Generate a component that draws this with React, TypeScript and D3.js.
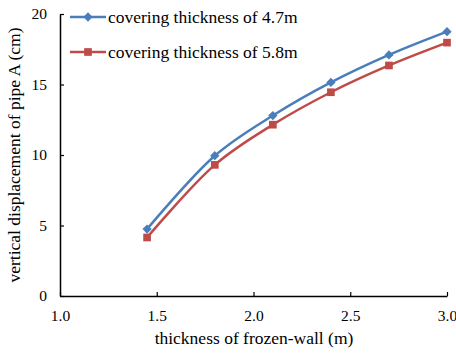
import React, { useEffect, useRef } from 'react';
import * as d3 from 'd3';

const thickness = [1.45, 1.8, 2.1, 2.4, 2.7, 3.0];
const cover47 = [4.75, 9.95, 12.8, 15.15, 17.1, 18.75];
const cover58 = [4.15, 9.3, 12.15, 14.45, 16.35, 17.97];
const xTicks = [1.0, 1.5, 2.0, 2.5, 3.0];
const yTicks = [0, 5, 10, 15, 20];
const seriesNames = ['covering thickness of 4.7m', 'covering thickness of 5.8m'];

const App = () => {
  const ref = useRef<SVGSVGElement>(null);

  useEffect(() => {
    const svg = d3.select(ref.current);
    svg.selectAll('*').remove();
    const left = 60;
    const right = 447;
    const top = 14;
    const bottom = 296;
    const font = '"Liberation Serif", "Times New Roman", serif';

    const x = d3.scaleLinear().domain([1.0, 3.0]).range([left, right]);
    const y = d3.scaleLinear().domain([0, 20]).range([bottom, top]);

    const xAxis = svg.append('g')
      .attr('transform', `translate(0,${bottom})`)
      .call(d3.axisBottom(x).tickValues(xTicks).tickFormat(d3.format('.1f')).tickSize(-4).tickSizeOuter(0).tickPadding(14));
    xAxis.select('.domain').attr('stroke', '#000').attr('stroke-width', 1.5);
    xAxis.selectAll('.tick line').attr('stroke', '#000').attr('stroke-width', 1.2);
    xAxis.selectAll('.tick text').attr('font-family', font).attr('font-size', 15.5).attr('fill', '#000');

    const yAxis = svg.append('g')
      .attr('transform', `translate(${left},0)`)
      .call(d3.axisLeft(y).tickValues(yTicks).tickSize(-4).tickSizeOuter(0).tickPadding(13));
    yAxis.select('.domain').attr('stroke', '#000').attr('stroke-width', 1.5);
    yAxis.selectAll('.tick line').attr('stroke', '#000').attr('stroke-width', 1.2);
    yAxis.selectAll('.tick text').attr('font-family', font).attr('font-size', 15.5).attr('fill', '#000');

    const series = [
      { name: seriesNames[0], values: cover47, color: '#4A7EBB', marker: 'diamond' },
      { name: seriesNames[1], values: cover58, color: '#BE4B48', marker: 'square' },
    ];

    const line = d3.line<number>()
      .x((_, i) => x(thickness[i]))
      .y(d => y(d))
      .curve(d3.curveCatmullRom.alpha(0.5));

    const markerPath = (type: string) =>
      type === 'diamond'
        ? d3.symbol().type(d3.symbolDiamond2).size(55)()
        : d3.symbol().type(d3.symbolSquare2).size(75)();

    series.forEach(s => {
      svg.append('path')
        .datum(s.values)
        .attr('d', line)
        .attr('fill', 'none')
        .attr('stroke', s.color)
        .attr('stroke-width', 2.5);
      svg.append('g')
        .selectAll('path')
        .data(s.values)
        .join('path')
        .attr('transform', (d, i) => `translate(${x(thickness[i])},${y(d)})`)
        .attr('d', markerPath(s.marker))
        .attr('fill', s.color);
    });

    // legend
    const legend = svg.append('g');
    series.forEach((s, i) => {
      const ly = 17 + i * 35;
      legend.append('line')
        .attr('x1', 70).attr('x2', 106).attr('y1', ly).attr('y2', ly)
        .attr('stroke', s.color).attr('stroke-width', 2.5);
      legend.append('path')
        .attr('transform', `translate(88,${ly})`)
        .attr('d', markerPath(s.marker))
        .attr('fill', s.color);
      legend.append('text')
        .attr('x', 108).attr('y', ly).attr('dy', '0.35em')
        .attr('font-family', font).attr('font-size', 17.5).attr('fill', '#000')
        .text(s.name);
    });

    svg.append('text')
      .attr('x', 254).attr('y', 344)
      .attr('text-anchor', 'middle')
      .attr('font-family', font).attr('font-size', 17.5).attr('fill', '#000')
      .text('thickness of frozen-wall (m)');

    svg.append('text')
      .attr('transform', `translate(14,${(top + bottom) / 2}) rotate(-90)`)
      .attr('text-anchor', 'middle').attr('dy', '0.35em')
      .attr('font-family', font).attr('font-size', 17.5).attr('fill', '#000')
      .text('vertical displacement of pipe A (cm)');
  }, []);

  return <svg ref={ref} width={456} height={354} style={{ display: 'block', position: 'absolute', left: 0, top: 0, background: '#fff' }} />;
};

export default App;
